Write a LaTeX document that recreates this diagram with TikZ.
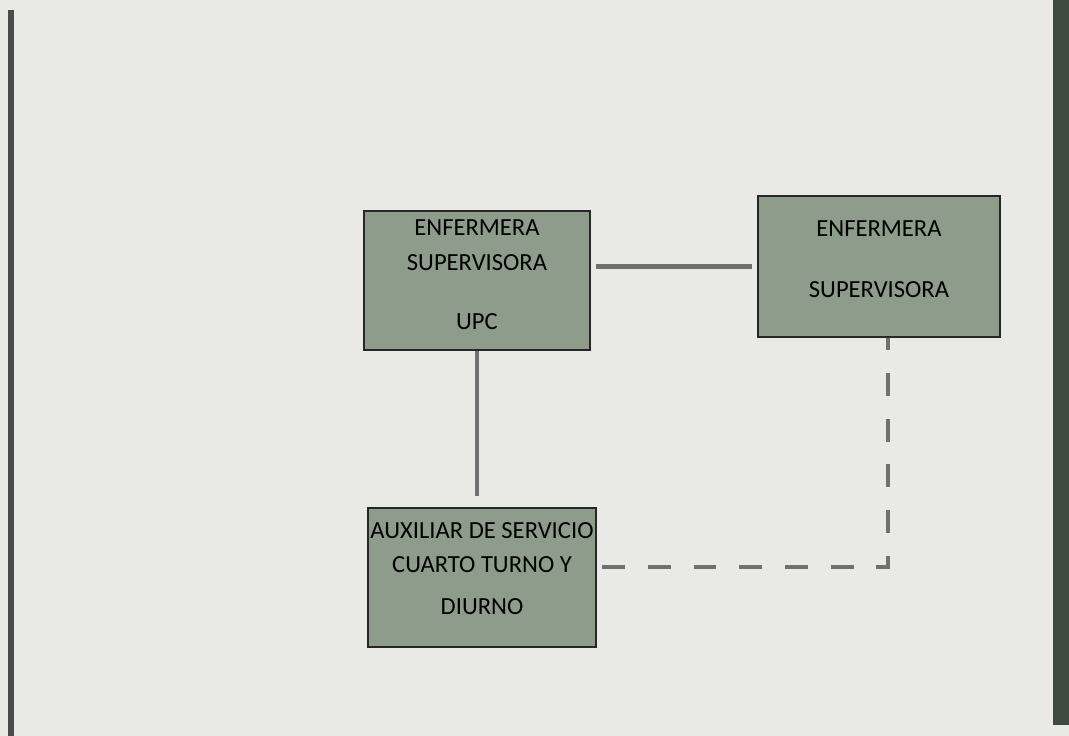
\documentclass[tikz,border=0pt]{standalone}
\usepackage{fontspec}
\setmainfont{Carlito}
\definecolor{paper}{HTML}{E9E9E6}
\definecolor{boxfill}{HTML}{8E9C8B}
\definecolor{linkgray}{HTML}{707070}
\definecolor{edgedark}{HTML}{3E4A40}
\begin{document}
\begin{tikzpicture}[
    cargo/.style={draw=black!85, line width=1.1pt, fill=boxfill, align=center,
        inner xsep=0pt, font=\fontsize{14}{19.7}\selectfont},
    link/.style={linkgray, line width=2.8pt},
    dashlink/.style={link, dash pattern=on 13pt off 13pt}
]
    \useasboundingbox (0,0) rectangle (21.38,14.72);
    \fill[paper] (0,0) rectangle (21.38,14.72);
    % page edges
    \fill[black!70] (0.16,0) rectangle (0.28,14.52);
    \fill[edgedark] (21.06,0.22) rectangle (21.38,14.72);

    \node[cargo, minimum width=4.52cm, minimum height=2.78cm, text depth=6.8pt] (upc) at (9.54,9.11)
        {ENFERMERA\\SUPERVISORA\\[14pt]UPC};
    \node[cargo, minimum width=4.84cm, minimum height=2.82cm, text depth=8.5pt] (sup) at (17.58,9.39)
        {ENFERMERA\\[14.7pt]SUPERVISORA};
    \node[cargo, minimum width=4.56cm, minimum height=2.78cm, text depth=10.5pt] (aux) at (9.64,3.17)
        {AUXILIAR DE SERVICIO\\CUARTO TURNO Y\\[4pt]DIURNO};
    \coordinate (bend) at (17.76,3.38);

    \draw[link, shorten <=3pt, shorten >=3pt] (sup.west -| upc.east) -- (sup.west);
    \draw[link, shorten >=6pt] (upc.south) -- (upc.south |- aux.north);
    \draw[dashlink, shorten <=3pt] (aux.east |- bend) -- (bend) -- (bend |- sup.south);
\end{tikzpicture}
\end{document}
